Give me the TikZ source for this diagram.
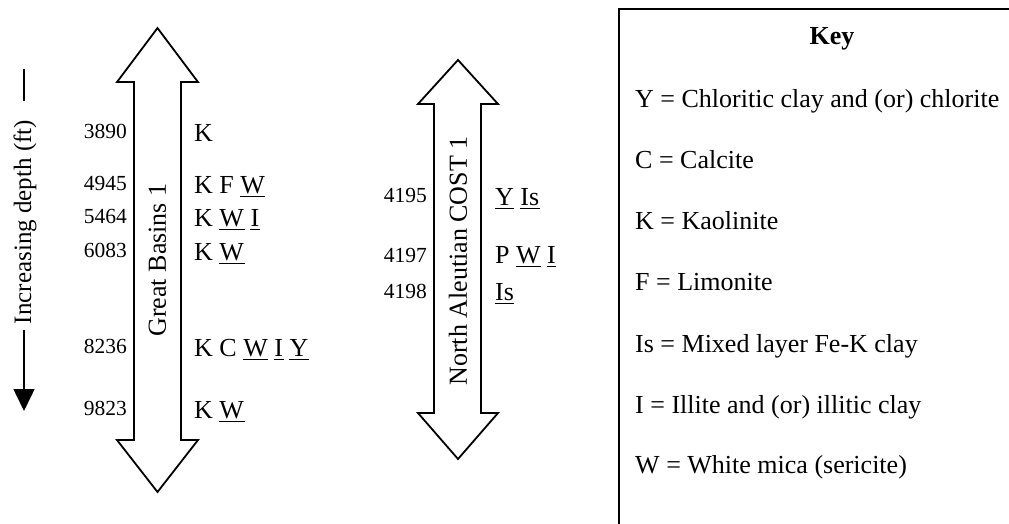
\documentclass[tikz,border=0pt]{standalone}
\usepackage{fontspec}
\setmainfont{Liberation Serif}
\usetikzlibrary{arrows.meta}
\newcommand\ulx[1]{\setbox0\hbox{#1}\rlap{\kern-0.5pt\rule[-4pt]{\dimexpr\wd0+1pt\relax}{1.3pt}}\box0\relax}
\tikzset{
  big/.style={font=\fontsize{26}{30}\selectfont, inner sep=0pt},
  num/.style={font=\fontsize{21.5}{25}\selectfont, inner sep=0pt, anchor=base east},
  min/.style={font=\fontsize{26}{30}\selectfont, inner sep=0pt, anchor=base west},
  keyline/.style={font=\fontsize{26}{30}\selectfont, inner sep=0pt, anchor=base west},
  bigarrow/.style={draw=black, line width=1.8pt, line join=miter, fill=white},
}
\begin{document}
\begin{tikzpicture}[x=1pt,y=-1pt]
\useasboundingbox (0,0) rectangle (1009,523);
\clip (0,0) rectangle (1009,523);

% Depth indicator
\coordinate (d1) at (24,69);
\coordinate (d2) at (24,101);
\draw[line width=1.5pt] (d1) -- (d2);
\node[big, font=\fontsize{25}{29}\selectfont, rotate=90] (depth) at (25,222) {Increasing depth (ft)};
\coordinate (d3) at (24,330);
\coordinate (d4) at (24,411);
\draw[line width=1.5pt, -{Triangle[length=22pt,width=21pt]}] (d3) -- (d4);

% Great Basins arrow
\draw[bigarrow] (157.5,28) -- (198,82) -- (181,82) -- (181,440) -- (198,440) -- (157.5,492)
  -- (117,440) -- (134,440) -- (134,82) -- (117,82) -- cycle;
\node[big, rotate=90] (gb) at (157.5,260) {Great Basins 1};

% North Aleutian arrow
\draw[bigarrow] (458,60) -- (498,104) -- (481,104) -- (481,413) -- (498,413) -- (458,459)
  -- (418,413) -- (434,413) -- (434,104) -- (418,104) -- cycle;
\node[big, rotate=90] (na) at (458,261) {North Aleutian COST 1};

% Great Basins depths
\node[num] (g1) at (127,138) {3890};
\node[num] (g2) at (127,190) {4945};
\node[num] (g3) at (127,223) {5464};
\node[num] (g4) at (127,257) {6083};
\node[num] (g5) at (127,353) {8236};
\node[num] (g6) at (127,415) {9823};
\node[min] (m1) at (194,141) {K};
\node[min] (m2) at (194,193) {K F \ulx{W}};
\node[min] (m3) at (194,226) {K \ulx{W} \ulx{I}};
\node[min] (m4) at (194,260) {K \ulx{W}};
\node[min] (m5) at (194,356) {K C \ulx{W} \ulx{I} \ulx{Y}};
\node[min] (m6) at (194,418) {K \ulx{W}};

% North Aleutian depths
\node[num] (n1) at (427,202) {4195};
\node[num] (n2) at (427,262) {4197};
\node[num] (n3) at (427,298) {4198};
\node[min] (p1) at (495,205) {\ulx{Y} \ulx{Is}};
\node[min] (p2) at (495,263) {P \ulx{W} \ulx{I}};
\node[min] (p3) at (495,300) {\ulx{Is}};

% Key box
\draw[line width=1.8pt] (1020,9) -- (619,9) -- (619,540);
\node[big, anchor=base, font=\fontsize{26}{30}\selectfont\bfseries] (key) at (832,44) {Key};
\node[keyline] (k1) at (635,107) {Y = Chloritic clay and (or) chlorite};
\node[keyline] (k2) at (635,168) {C = Calcite};
\node[keyline] (k3) at (635,229) {K = Kaolinite};
\node[keyline] (k4) at (635,290) {F = Limonite};
\node[keyline] (k5) at (635,352) {Is = Mixed layer Fe-K clay};
\node[keyline] (k6) at (635,413) {I = Illite and (or) illitic clay};
\node[keyline] (k7) at (635,473) {W = White mica (sericite)};
\end{tikzpicture}
\end{document}
